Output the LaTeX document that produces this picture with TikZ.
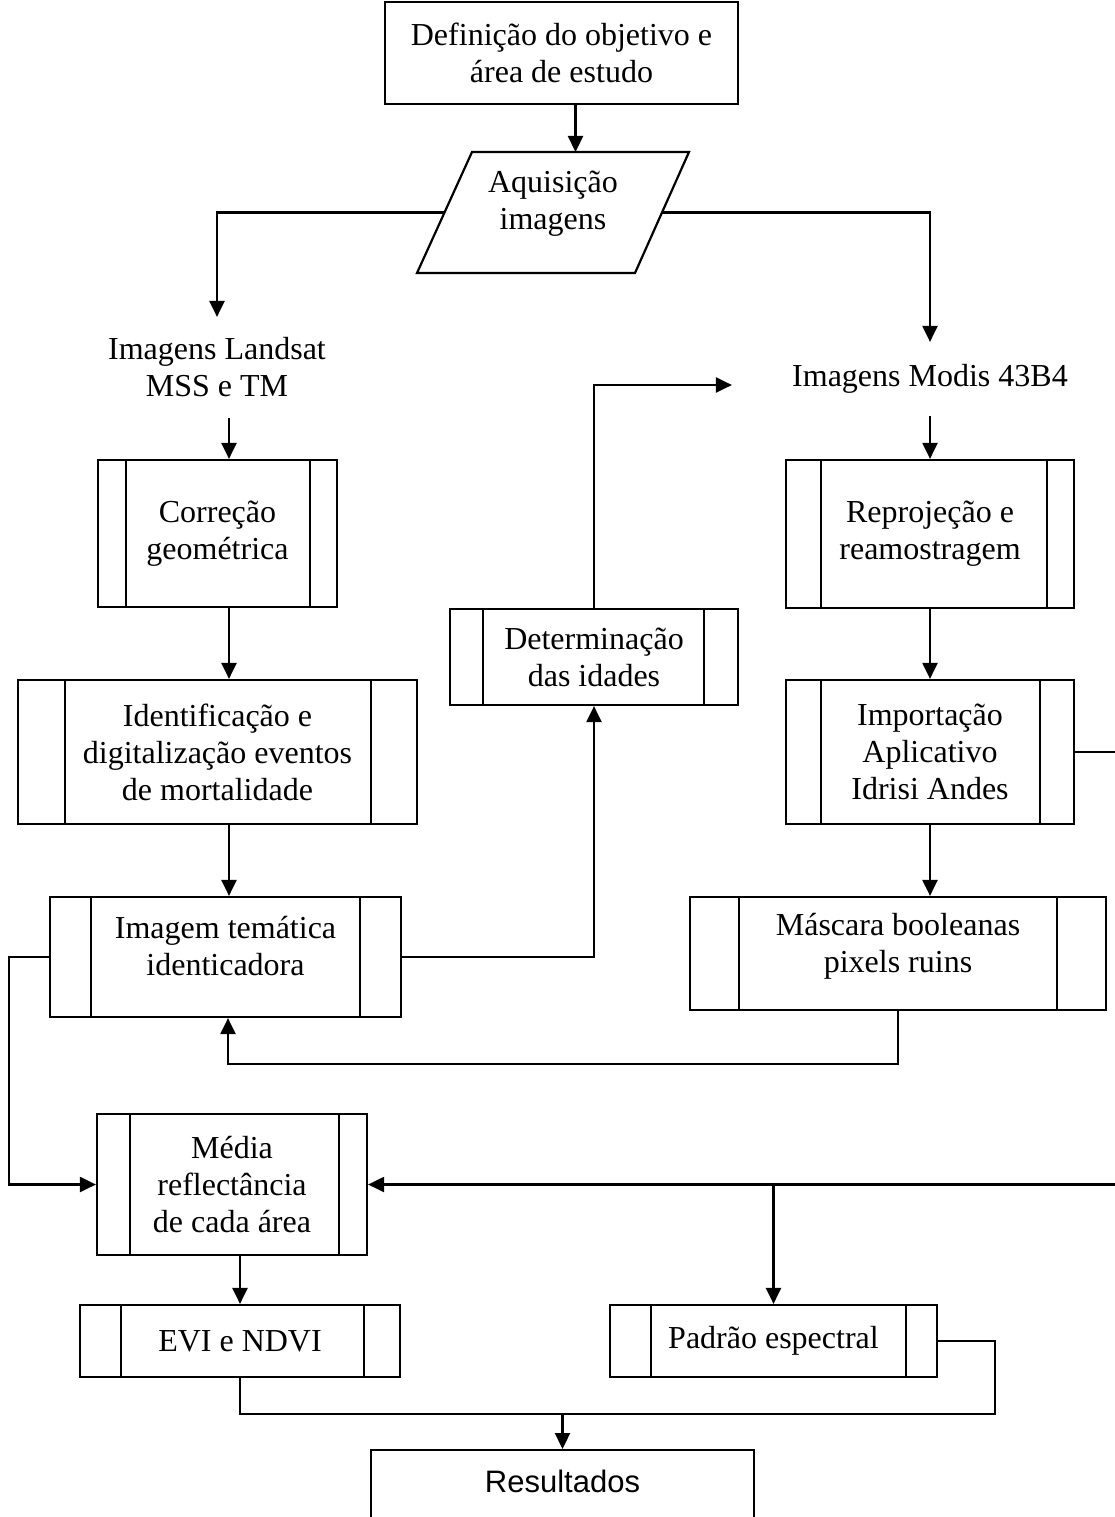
\documentclass[tikz,border=0pt]{standalone}
\usepackage{fontspec}
\setmainfont{Liberation Serif}
\newfontfamily\arialf{Liberation Sans}
\usetikzlibrary{arrows.meta,calc}
\newcommand\vbars[3]{%
  \draw ([xshift=#2]#1.north west) -- ([xshift=#2]#1.south west);
  \draw ([xshift=-#3]#1.north east) -- ([xshift=-#3]#1.south east);}
\begin{document}
\begin{tikzpicture}[x=1pt,y=-1pt, line width=2.2pt,
  base/.style={font=\fontsize{32}{37}\selectfont, align=center, inner sep=0pt},
  box/.style={base, draw},
  txt/.style={base},
  arr/.style={-{Triangle[length=16pt,width=15pt]}}]
\useasboundingbox (0,0) rectangle (1115,1517);
\fill[white] (0,0) rectangle (1115,1517);
\begin{scope}
\clip (0,0) rectangle (1115,1517);
\coordinate (colL) at (229,0);
\coordinate (edgeR) at (1115,0);
\coordinate (bus) at (0,1414);
% top box
\node[box, minimum width=353pt, minimum height=102pt] (A) at (561.5,53) {Definição do objetivo e\\área de estudo};
% parallelogram
\draw (472,152) -- (689,152) -- (635,273) -- (417,273) -- cycle;
\node[txt] (P) at (553,203.5) {Aquisição\\imagens};
\coordinate (Pt) at (575.5,152);
\coordinate (Pl) at (444.5,212.5);
\coordinate (Pr) at (662,212.5);
% Landsat / Modis labels
\node[txt, minimum height=99pt] (L) at (217,367.5) {Imagens Landsat\\MSS e TM};
\node[txt, minimum height=72pt, minimum width=394pt] (Mo) at (930,379) {Imagens Modis 43B4};
% process boxes
\node[box, minimum width=239pt, minimum height=147pt] (B) at (217.5,533.5) {Correção\\geométrica};
\vbars{B}{29pt}{28pt}
\node[box, minimum width=399pt, minimum height=144pt] (C) at (217.5,752) {Identificação e\\digitalização eventos\\de mortalidade};
\vbars{C}{48pt}{47pt}
\node[box, minimum width=351pt, minimum height=120pt] (D) at (225.5,957) {};
\vbars{D}{42pt}{42pt}
\node[txt] (Dt) at (225.5,946.5) {Imagem temática\\identicadora};
\node[box, minimum width=288pt, minimum height=96pt] (Det) at (594,657) {Determinação\\das idades};
\vbars{Det}{34pt}{35pt}
\node[box, minimum width=288pt, minimum height=148pt] (R) at (930,534) {Reprojeção e\\reamostragem};
\vbars{R}{36pt}{28pt}
\node[box, minimum width=288pt, minimum height=144pt] (I) at (930,752) {Importação\\Aplicativo\\Idrisi Andes};
\vbars{I}{36pt}{35pt}
\node[box, minimum width=416pt, minimum height=113pt] (M) at (898,953.5) {};
\vbars{M}{50pt}{50pt}
\node[txt] (Mt) at (898,946.5) {Máscara booleanas\\pixels ruins};
\node[box, minimum width=270pt, minimum height=141pt] (E) at (232,1184.5) {Média\\reflectância\\de cada área};
\vbars{E}{34pt}{29pt}
\node[box, minimum width=320pt, minimum height=72pt] (F) at (240,1341) {EVI e NDVI};
\vbars{F}{42pt}{37pt}
\node[box, minimum width=327pt, minimum height=72pt] (G) at (773.5,1341) {Padrão espectral};
\vbars{G}{42pt}{32pt}
\node[draw, minimum width=383pt, minimum height=150pt, anchor=north, inner sep=0pt] (Res) at (562.5,1449) {};
\node[font=\arialf\fontsize{31}{36}\selectfont, inner sep=0pt] (Rest) at (562.5,1481) {Resultados};
% connectors
\draw[arr] ([xshift=14pt]A.south) -- (Pt);
\draw[arr] (Pl) -| (L.north);
\draw[arr] (Pr) -| (Mo.north);
\draw[arr] (L.south -| colL) -- (B.north -| colL);
\draw[arr] (B.south -| colL) -- (C.north -| colL);
\draw[arr] (C.south -| colL) -- (D.north -| colL);
\draw[arr] (Mo.south) -- (R.north);
\draw[arr] (R.south) -- (I.north);
\draw[arr] (I.south) -- (I.south |- M.north);
\draw (I.east) -- (I.east -| edgeR);
\draw[arr] (D.east) -| (Det.south);
\draw[arr] (Det.north) |- ([yshift=-6pt]Mo.west);
\draw[arr] (M.south) -- ++(0,53) -| ([xshift=2.5pt]D.south);
\draw[arr] (D.west) -- ++(-40,0) |- (E.west);
\draw[arr] (E.east -| edgeR) -- (E.east);
\draw[arr] (G.north |- E.east) -- (G.north);
\draw[arr] (F.north |- E.south) -- (F.north);
\draw (G.east) -- ++(57,0) |- (F.south |- bus) -- (F.south);
\draw[arr] (Res.north |- bus) -- (Res.north);
\end{scope}
\end{tikzpicture}
\end{document}
